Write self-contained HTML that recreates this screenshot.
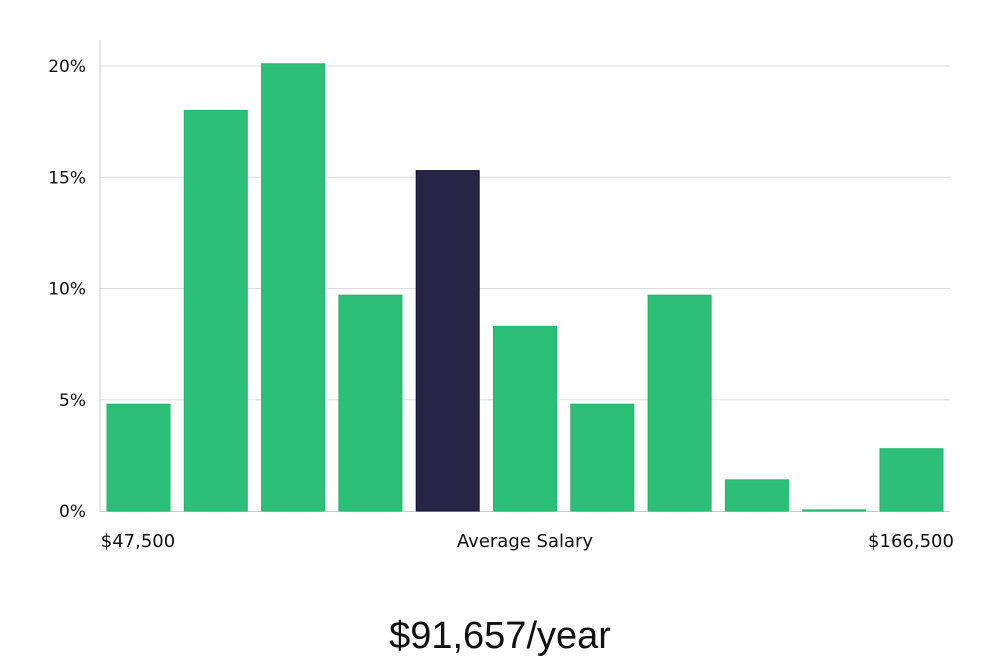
<!DOCTYPE html>
<html><head><meta charset="utf-8"><style>
html,body{margin:0;padding:0;background:#fff;}
svg{display:block;}
text{font-family:"DejaVu Sans","Liberation Sans",sans-serif;fill:#111;}
</style></head><body>
<svg id="chart" width="1000" height="660" viewBox="0 0 1000 660">
<g id="grid"></g><g id="bars"></g><g id="labels"></g>
<line x1="100" y1="40" x2="100" y2="512" stroke="#ccc" stroke-width="1"/>
<text x="138" y="547" font-size="18" text-anchor="middle">$47,500</text>
<text x="525" y="547" font-size="18" text-anchor="middle">Average Salary</text>
<text x="911" y="547" font-size="18" text-anchor="middle">$166,500</text>
<text x="500" y="648" font-size="38" text-anchor="middle" style="font-family:'Liberation Sans','DejaVu Sans',sans-serif;font-weight:300" fill="#222">$91,657/year</text>
</svg>
<script>
const categories = ["b1","b2","b3","b4","b5","b6","b7","b8","b9","b10","b11"];
const values = [4.8,18.0,20.1,9.7,15.3,8.3,4.8,9.7,1.4,0.05,2.8];
const highlightIndex = 4;
const yTicks = [0,5,10,15,20];
const yTickLabels = ["0%","5%","10%","15%","20%"];
const NS="http://www.w3.org/2000/svg";
const y0=511, yTop=66, yMax=20;
function y(v){return y0-(v/yMax)*(y0-yTop);}
const xStart=107, step=77.3, bw=63;
function x(i){return xStart+i*step;}
const grid=document.getElementById('grid'), bars=document.getElementById('bars'), labels=document.getElementById('labels');
yTicks.forEach((t,i)=>{
  if(t>0){
    const l=document.createElementNS(NS,'line');
    
    
    l.setAttribute('x1',100);l.setAttribute('x2',950);
    l.setAttribute('y1',y(t));l.setAttribute('y2',y(t));
    l.setAttribute('stroke','#ddd');l.setAttribute('stroke-width','1');
    grid.appendChild(l);
  }
  const tx=document.createElementNS(NS,'text');
  
  
  tx.setAttribute('x',86);tx.setAttribute('y',y(t)+6);
  tx.setAttribute('text-anchor','end');tx.setAttribute('font-size','17');
  tx.textContent=yTickLabels[i];
  labels.appendChild(tx);
});
const base=document.createElementNS(NS,'line');


base.setAttribute('x1',100);base.setAttribute('x2',950);base.setAttribute('y1',y0+0.5);base.setAttribute('y2',y0+0.5);
base.setAttribute('stroke','#ccc');
grid.appendChild(base);
values.forEach((v,i)=>{
  const r=document.createElementNS(NS,'rect');
  
  
  const top=y(v);
  r.setAttribute('x',x(i));r.setAttribute('y',top);
  r.setAttribute('width',bw);r.setAttribute('height',Math.max(1,y0-top));
  const hl=i===highlightIndex;
  r.setAttribute('fill',hl?'#272546':'#2bbf77');
  r.setAttribute('stroke',hl?'#161430':'#22b56c');
  r.setAttribute('stroke-width','1');
  bars.appendChild(r);
});
</script>
</body></html>
